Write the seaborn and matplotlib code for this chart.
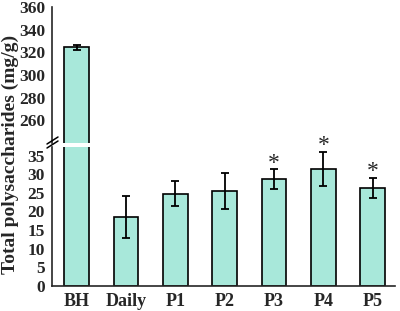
import numpy as np
import matplotlib
matplotlib.use('Agg')
import matplotlib.pyplot as plt
import seaborn as sns
import pandas as pd

sns.set_style('white')
plt.rcParams['font.family'] = ['Liberation Serif', 'DejaVu Serif']
plt.rcParams['font.weight'] = 'bold'

groups = ['BH', 'Daily', 'P1', 'P2', 'P3', 'P4', 'P5']
means = [324.5, 18.5, 24.8, 25.4, 28.6, 31.4, 26.3]
errs = [2.0, 5.6, 3.3, 4.8, 2.7, 4.6, 2.8]
stars = ['', '', '', '', '*', '*', '*']

df = pd.DataFrame({'group': groups, 'value': means})
bar_color = '#a8e8da'

fig = plt.figure(figsize=(4.0, 3.11), dpi=100)
ax_top = fig.add_axes([0.13, 0.540, 0.8575, 0.4375])
ax_bot = fig.add_axes([0.13, 0.0814, 0.8575, 0.4456])

for ax in (ax_top, ax_bot):
    sns.barplot(data=df, x='group', y='value', order=groups, color=bar_color,
                edgecolor='black', linewidth=1.2, width=0.5, errorbar=None,
                saturation=1, ax=ax)
    ax.errorbar(np.arange(len(groups)), means, yerr=errs, fmt='none',
                ecolor='black', elinewidth=1.3, capsize=3, capthick=1.3)
    ax.set_xlim(-0.5, 6.45)
    ax.set_xlabel('')
    ax.set_ylabel('')
    for s in ['top', 'right']:
        ax.spines[s].set_visible(False)
    ax.spines['left'].set_linewidth(1.2)
    ax.spines['bottom'].set_linewidth(1.2)
    ax.tick_params(axis='y', direction='out', length=4, width=1.2, labelsize=12.5, pad=1)

ax_top.set_ylim(240, 360)
ax_top.set_yticks(np.arange(260, 361, 20))
ax_top.spines['bottom'].set_visible(False)
ax_top.tick_params(axis='x', bottom=False, labelbottom=False)

ax_bot.set_ylim(0, 37.3)
ax_bot.set_yticks(np.arange(0, 36, 5))
ax_bot.tick_params(axis='x', bottom=False, labelsize=13, pad=2)
for ax in (ax_top, ax_bot):
    for lab in ax.get_xticklabels() + ax.get_yticklabels():
        lab.set_fontweight('bold')

# significance stars
for i, s in enumerate(stars):
    if s:
        ax_bot.annotate(s, (i, means[i] + errs[i]), xytext=(0, -3),
                        textcoords='offset points', ha='center', va='bottom',
                        fontsize=17, fontweight='normal')

# break marks on the left spine
kw = dict(color='black', lw=1.1)
for dy in (0, 4):
    x0, x1 = 47 / 400, 58 / 400
    y0, y1 = (311 - 148 - dy) / 311, (311 - 141 - dy) / 311
    fig.add_artist(plt.Line2D([x0, x1], [y0 + 4 / 311, y1 + 4 / 311], **kw))

fig.text(0.027, 0.505, 'Total polysaccharides (mg/g)', rotation=90, ha='center',
         va='center', fontsize=14, fontweight='bold')

fig.savefig('out.png', dpi=100)
